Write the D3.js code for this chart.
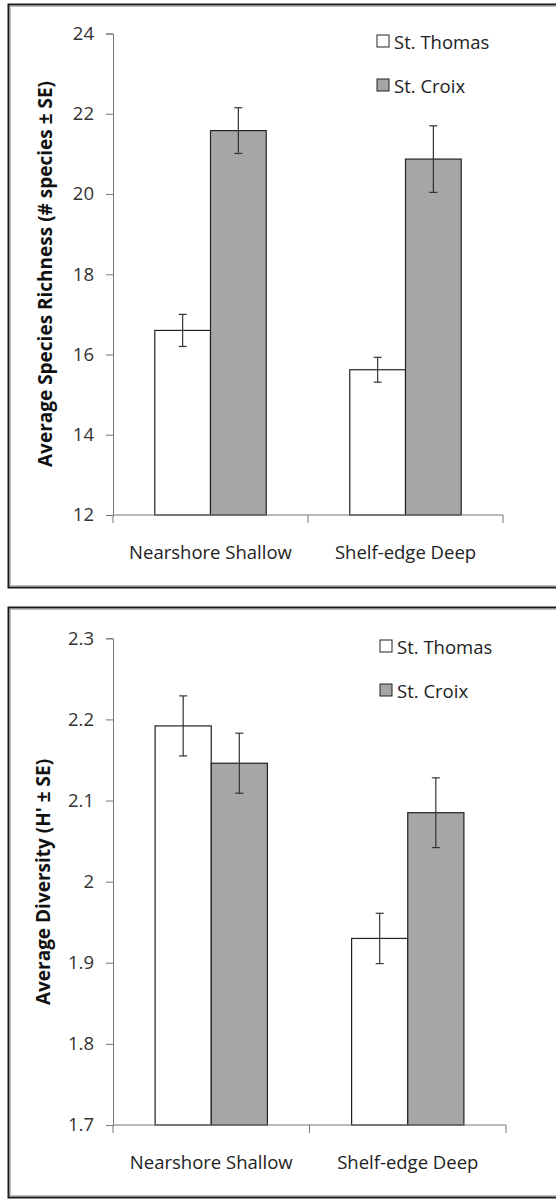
<!DOCTYPE html>
<html>
<head>
<meta charset="utf-8">
<script src="https://cdn.jsdelivr.net/npm/d3@7"></script>
<style>
  html, body { margin: 0; padding: 0; background: #fff; }
  svg { display: block; font-family: 'Open Sans', sans-serif; }
</style>
</head>
<body>
<div id="chart"></div>
<script>
const categories = ['Nearshore Shallow', 'Shelf-edge Deep'];
const seriesNames = ['St. Thomas', 'St. Croix'];
const seriesColors = ['#ffffff', '#a6a6a6'];

// panel 1: species richness
const richnessMean = [[16.6, 15.62], [21.58, 20.87]];
const richnessSE = [[0.4, 0.31], [0.57, 0.83]];
const richnessTicks = [12, 14, 16, 18, 20, 22, 24];

// panel 2: diversity
const diversityMean = [[2.192, 1.930], [2.146, 2.085]];
const diversitySE = [[0.037, 0.031], [0.037, 0.043]];
const diversityTicks = [1.7, 1.8, 1.9, 2.0, 2.1, 2.2, 2.3];

const width = 556;
const height = 1199;
const font = "'Open Sans', sans-serif";

const svg = d3.select('#chart')
    .append('svg')
    .attr('width', width)
    .attr('height', height);

function drawPanel(opts) {
    const g = svg.append('g');

    // frame
    g.append('rect')
        .attr('x', 8.5).attr('y', opts.frameTop + 0.5)
        .attr('width', 600).attr('height', opts.frameBottom - opts.frameTop)
        .attr('fill', '#fff')
        .attr('stroke', '#1a1a1a')
        .attr('stroke-width', 2);
    g.append('rect')
        .attr('x', 10.5).attr('y', opts.frameTop + 2.5)
        .attr('width', 600).attr('height', opts.frameBottom - opts.frameTop - 4)
        .attr('fill', 'none')
        .attr('stroke', '#bbb')
        .attr('stroke-width', 1);

    const x0 = d3.scaleBand()
        .domain(categories)
        .range([113, opts.xEnd])
        .paddingInner(0)
        .paddingOuter(0);

    const x1 = d3.scaleBand()
        .domain(seriesNames)
        .range([0, x0.bandwidth()])
        .paddingOuter(0.75)
        .paddingInner(0);

    const y = d3.scaleLinear()
        .domain(d3.extent(opts.ticks))
        .range([opts.yBottom, opts.yTop]);

    // bars
    seriesNames.forEach((s, si) => {
        g.append('g')
            .selectAll('rect')
            .data(categories)
            .join('rect')
            .attr('x', c => x0(c) + x1(s))
            .attr('y', (c, ci) => y(opts.mean[si][ci]))
            .attr('width', x1.bandwidth())
            .attr('height', (c, ci) => y.range()[0] - y(opts.mean[si][ci]))
            .attr('fill', seriesColors[si])
            .attr('stroke', '#222')
            .attr('stroke-width', 1.2);
    });

    // error bars
    seriesNames.forEach((s, si) => {
        const eg = g.append('g').attr('stroke', '#333').attr('stroke-width', 1.2);
        categories.forEach((c, ci) => {
            const cx = x0(c) + x1(s) + x1.bandwidth() / 2;
            const m = opts.mean[si][ci];
            const e = opts.se[si][ci];
            eg.append('line')
                .attr('x1', cx).attr('x2', cx)
                .attr('y1', y(m + e)).attr('y2', y(m - e));
            eg.append('line')
                .attr('x1', cx - 4).attr('x2', cx + 4)
                .attr('y1', y(m + e)).attr('y2', y(m + e));
            eg.append('line')
                .attr('x1', cx - 4).attr('x2', cx + 4)
                .attr('y1', y(m - e)).attr('y2', y(m - e));
        });
    });

    // y axis
    const yAxis = g.append('g')
        .attr('transform', 'translate(113,0)')
        .call(d3.axisLeft(y).tickValues(opts.ticks).tickSize(7).tickPadding(12)
            .tickFormat(opts.fmt))
        .attr('font-family', font)
        .attr('font-size', 18.5);
    yAxis.select('.domain').attr('stroke', '#777');
    yAxis.selectAll('.tick line').attr('stroke', '#777');
    yAxis.selectAll('.tick text').attr('fill', '#333');

    // x axis
    const xAxis = g.append('g')
        .attr('transform', `translate(0,${opts.yBottom})`)
        .call(d3.axisBottom(x0).tickSize(0).tickPadding(0))
        .attr('font-family', font)
        .attr('font-size', 18.5);
    xAxis.select('.domain').attr('stroke', '#777').attr('d', `M113,0H${opts.xEnd}`);
    xAxis.selectAll('.tick text')
        .attr('y', opts.labelDy)
        .attr('fill', '#222');
    // category boundary ticks
    xAxis.append('g')
        .selectAll('line')
        .data(x0.domain().map(c => x0(c)).concat([x0.range()[1]]))
        .join('line')
        .attr('x1', d => d).attr('x2', d => d)
        .attr('y1', 0).attr('y2', 8)
        .attr('stroke', '#777');

    // y title
    g.append('text')
        .attr('transform', `translate(${opts.titleX},${opts.titleY}) rotate(-90)`)
        .attr('text-anchor', 'middle')
        .attr('dominant-baseline', 'middle')
        .style('font-size', '19px')
        .style('font-weight', 'bold')
        .attr('fill', '#111')
        .text(opts.title);

    // legend
    const lg = g.append('g');
    seriesNames.forEach((s, si) => {
        const ly = opts.legendY + si * 44;
        lg.append('rect')
            .attr('x', opts.legendX).attr('y', ly - 6)
            .attr('width', 12).attr('height', 12)
            .attr('fill', seriesColors[si])
            .attr('stroke', '#222')
            .attr('stroke-width', 1);
        lg.append('text')
            .attr('x', opts.legendX + 17).attr('y', ly)
            .attr('dominant-baseline', 'central')
            .style('font-size', '18.5px')
            .attr('fill', '#222')
            .text(s);
    });
}

drawPanel({
    frameTop: 4, frameBottom: 587,
    mean: richnessMean, se: richnessSE, ticks: richnessTicks,
    fmt: d3.format('d'),
    yTop: 33.5, yBottom: 515, xEnd: 503,
    labelDy: 31,
    title: 'Average Species Richness (# species \u00b1 SE)',
    titleX: 47, titleY: 274,
    legendX: 377, legendY: 41
});

drawPanel({
    frameTop: 607, frameBottom: 1197,
    mean: diversityMean, se: diversitySE, ticks: diversityTicks,
    fmt: d => (d === 2 ? '2' : d3.format('.1f')(d)),
    yTop: 638.3, yBottom: 1125, xEnd: 506,
    labelDy: 31,
    title: 'Average Diversity (H\' \u00b1 SE)',
    titleX: 45, titleY: 882,
    legendX: 380, legendY: 646
});
</script>
</body>
</html>
